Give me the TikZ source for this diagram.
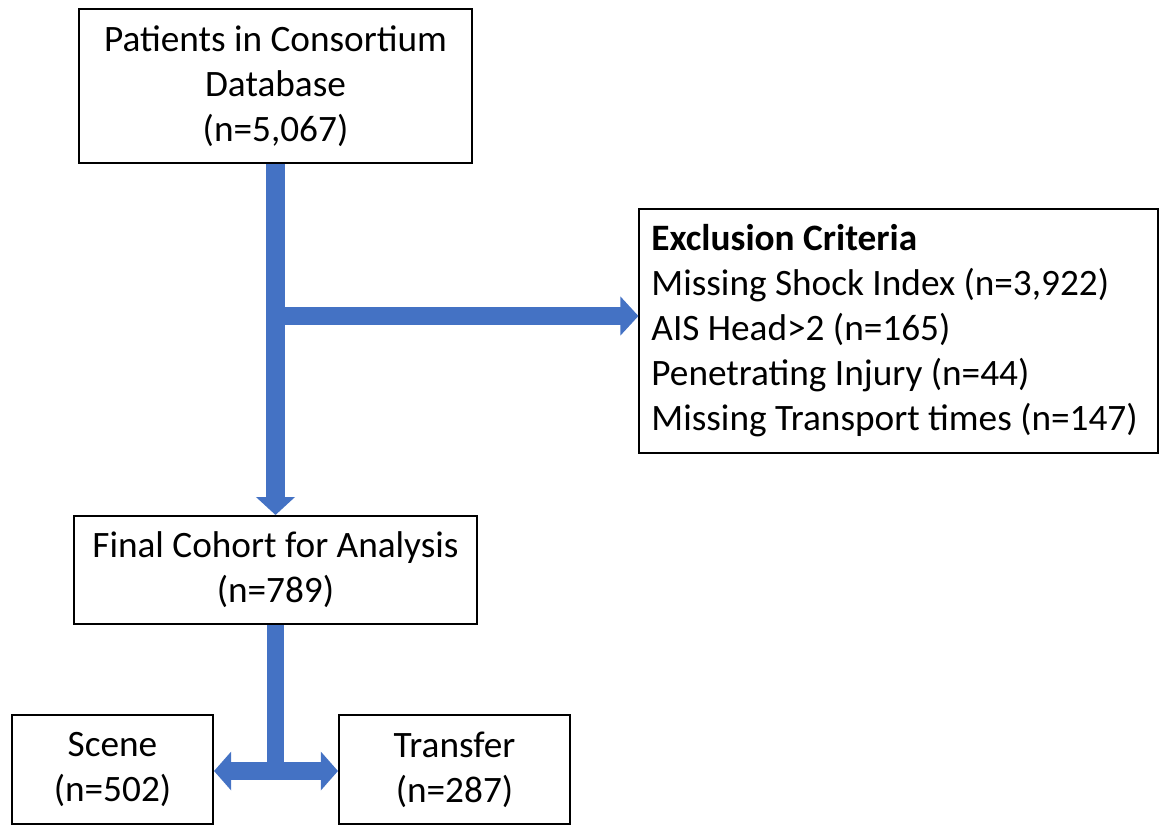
\documentclass[tikz,border=0pt]{standalone}
\usepackage{fontspec}
\setmainfont{Carlito}
\usepackage{xcolor}
\usetikzlibrary{arrows.meta, positioning, calc}
\definecolor{flowblue}{HTML}{4472C4}

\begin{document}
\begin{tikzpicture}[
  x=0.025cm, y=-0.025cm,
  box/.style={rectangle, draw, line width=1.4pt, align=center, font=\fontsize{26.5}{32}\selectfont, inner sep=0pt},
  list/.style={rectangle, draw, line width=1.4pt, align=flush left, font=\fontsize{26.5}{32}\selectfont, inner ysep=0pt, inner xsep=0.3cm},
  flow/.style={line width=0.46cm, draw=flowblue, -{Triangle[length=0.45cm, width=0.95cm]}},
  split/.style={line width=0.43cm, draw=flowblue, {Triangle[length=0.43cm, width=0.95cm]}-{Triangle[length=0.43cm, width=0.95cm]}}
]
\useasboundingbox (0,0) rectangle (1160,825);

% ---------------------------------------------------
% Boxes
% ---------------------------------------------------
\node[box, minimum width=9.825cm, minimum height=3.85cm] (patients) at (275.5,86) {Patients in Consortium\\Database\\(n=5,067)};

\node[list, text width=12.35cm, minimum height=6.1cm] (excl) at (898.5,331) {\textbf{Exclusion Criteria}\\Missing Shock Index (n=3,922)\\AIS Head>2 (n=165)\\Penetrating Injury (n=44)\\Missing Transport times (n=147)};

\node[box, minimum width=10.075cm, minimum height=2.7cm] (cohort) at (275.5,570) {Final Cohort for Analysis\\(n=789)};

\node[box, minimum width=5.025cm, minimum height=2.725cm] (scene) at (112.5,769.5) {Scene\\(n=502)};
\node[box, minimum width=5.775cm, minimum height=2.725cm] (transfer) at (454.5,769.5) {Transfer\\(n=287)};

% ---------------------------------------------------
% Draw Connections
% ---------------------------------------------------
\coordinate (branch) at (275.5,316);
\coordinate (fork) at (275.5,771);

\draw[flow] (patients.south) -- (cohort.north);
\draw[flow] (branch) -- (branch -| excl.west);

\draw[flowblue, line width=0.43cm] (cohort.south) -- (fork);
\draw[split] (scene.east |- fork) -- (transfer.west |- fork);

\end{tikzpicture}
\end{document}
